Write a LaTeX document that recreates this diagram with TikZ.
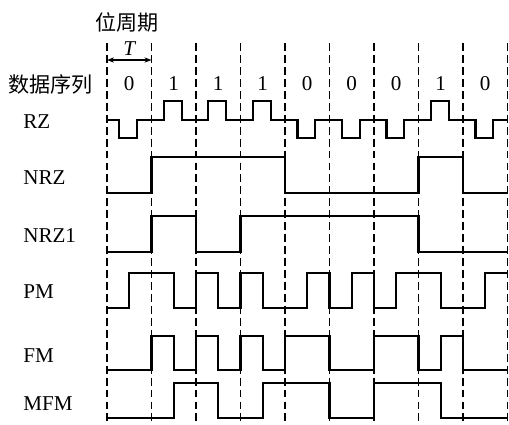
\documentclass[tikz,border=0pt]{standalone}
\usepackage{fontspec}
\setmainfont{Liberation Serif}
\newfontfamily\cjk{Noto Sans CJK SC}
\usetikzlibrary{arrows.meta, positioning}

\begin{document}
\begin{tikzpicture}[
  x=0.89cm, y=-0.02cm,
  lbl/.style={anchor=west, inner sep=0pt, font=\fontsize{12}{14}\selectfont},
  bitnum/.style={inner sep=0pt, font=\fontsize{12}{14}\selectfont},
  wave/.style={line width=1.2pt, line join=miter},
  bitline/.style={line width=0.6pt, dash pattern=on 4.5pt off 2.3pt},
  arrow/.style={{Stealth[length=4pt,width=3pt]}-{Stealth[length=4pt,width=3pt]}, line width=0.6pt}
]
\useasboundingbox (-2.404,0) rectangle (9.034,424);

% bit cell borders
\foreach \k in {0,...,9}
  \draw[bitline] (\k,43) -- (\k,424);

% bit period
\node[inner sep=0pt, font=\cjk\fontsize{12}{14}\selectfont] (per) at (0.45,22) {位周期};
\node[inner sep=0pt, font=\fontsize{12}{14}\selectfont\itshape] (T) at (0.5,49) {T};
\coordinate (Ta) at (0,60);
\coordinate (Tb) at (1,60);
\draw[arrow] (Ta) -- (Tb);

% data sequence
\node[lbl, font=\cjk\fontsize{12}{14}\selectfont] (seq) at (-2.225,84) {数据序列};
\foreach \b [count=\i from 0] in {0,1,1,1,0,0,0,1,0}
  \node[bitnum] (b\i) at (\i+0.5,84) {\b};

% labels
\node[lbl] (lRZ)   at (-1.888,122) {RZ};
\node[lbl] (lNRZ)  at (-1.888,178) {NRZ};
\node[lbl] (lNRZI) at (-1.888,235) {NRZ1};
\node[lbl] (lPM)   at (-1.888,292) {PM};
\node[lbl] (lFM)   at (-1.888,356) {FM};
\node[lbl] (lMFM)  at (-1.888,403) {MFM};

% RZ
\draw[wave] (0,120) -- (0.28,120) -- (0.28,138) -- (0.68,138) -- (0.68,120)
  -- (1.28,120) -- (1.28,101) -- (1.68,101) -- (1.68,120)
  -- (2.28,120) -- (2.28,101) -- (2.68,101) -- (2.68,120)
  -- (3.28,120) -- (3.28,101) -- (3.68,101) -- (3.68,120)
  -- (4.28,120) -- (4.28,138) -- (4.68,138) -- (4.68,120)
  -- (5.28,120) -- (5.28,138) -- (5.68,138) -- (5.68,120)
  -- (6.28,120) -- (6.28,138) -- (6.68,138) -- (6.68,120)
  -- (7.28,120) -- (7.28,101) -- (7.68,101) -- (7.68,120)
  -- (8.28,120) -- (8.28,138) -- (8.68,138) -- (8.68,120) -- (9,120);

% NRZ
\draw[wave] (0,193) -- (1,193) -- (1,157) -- (4,157) -- (4,193) -- (7,193)
  -- (7,157) -- (8,157) -- (8,193) -- (9,193);

% NRZ1
\draw[wave] (0,252) -- (1,252) -- (1,216) -- (2,216) -- (2,252) -- (3,252)
  -- (3,216) -- (7,216) -- (7,252) -- (9,252);

% PM
\draw[wave] (0,308) -- (0.5,308) -- (0.5,273) -- (1.5,273) -- (1.5,308) -- (2,308)
  -- (2,273) -- (2.5,273) -- (2.5,308) -- (3,308) -- (3,273) -- (3.5,273)
  -- (3.5,308) -- (4.5,308) -- (4.5,273) -- (5,273) -- (5,308) -- (5.5,308)
  -- (5.5,273) -- (6,273) -- (6,308) -- (6.5,308) -- (6.5,273) -- (7.5,273)
  -- (7.5,308) -- (8.5,308) -- (8.5,273) -- (9,273);

% FM
\draw[wave] (0,370) -- (1,370) -- (1,336) -- (1.5,336) -- (1.5,370) -- (2,370)
  -- (2,336) -- (2.5,336) -- (2.5,370) -- (3,370) -- (3,336) -- (3.5,336)
  -- (3.5,370) -- (4,370) -- (4,336) -- (5,336) -- (5,370) -- (6,370)
  -- (6,336) -- (7,336) -- (7,370) -- (7.5,370) -- (7.5,336) -- (8,336)
  -- (8,370) -- (9,370);

% MFM
\draw[wave] (0,418) -- (1.5,418) -- (1.5,383) -- (2.5,383) -- (2.5,418) -- (3.5,418)
  -- (3.5,383) -- (5,383) -- (5,418) -- (6,418) -- (6,383) -- (7.5,383)
  -- (7.5,418) -- (9,418);
\end{tikzpicture}
\end{document}
